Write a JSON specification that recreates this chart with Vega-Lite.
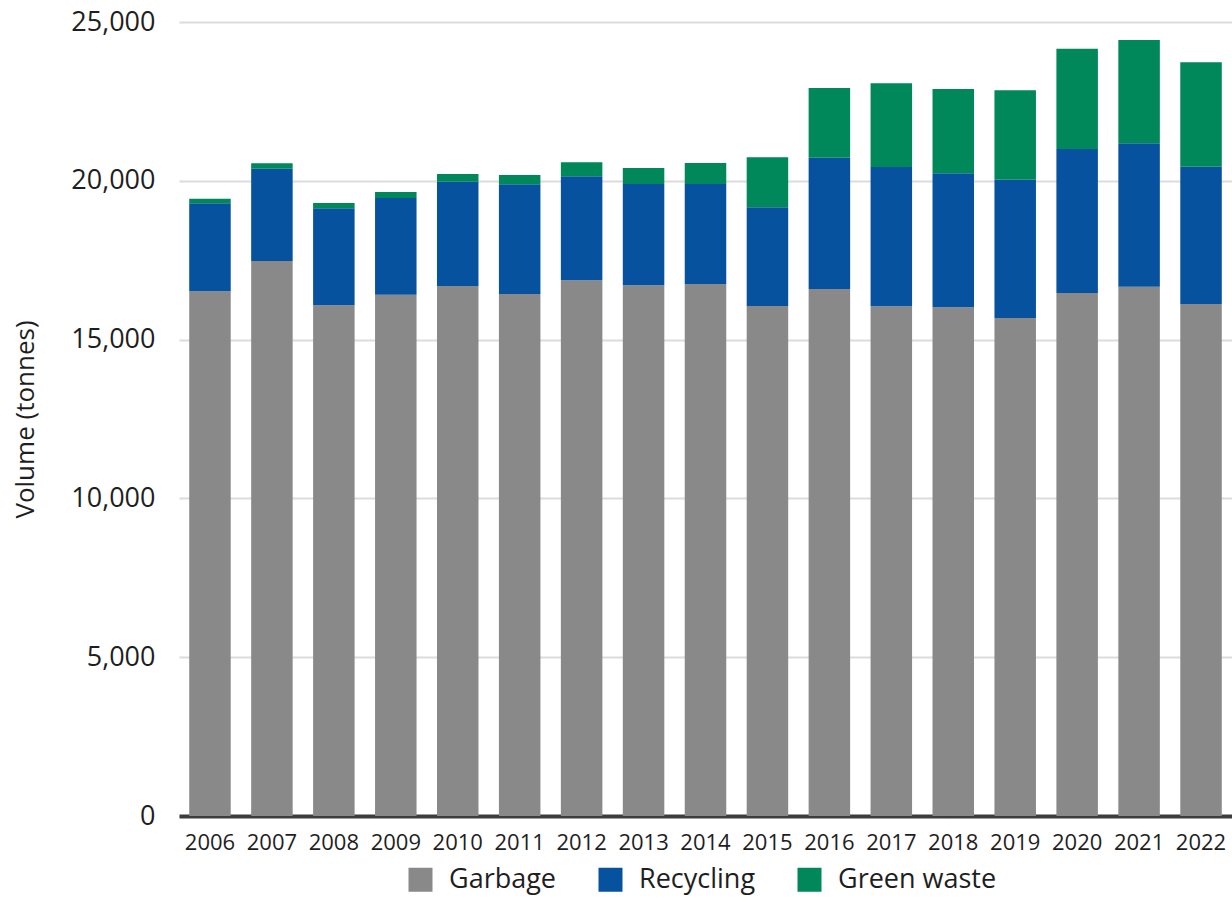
{
  "$schema": "https://vega.github.io/schema/vega-lite/v6.json",
  "autosize": "none",
  "width": 1053,
  "height": 794,
  "padding": {"left": 179, "top": 22, "right": 0, "bottom": 105},
  "background": "#ffffff",
  "data": {
    "values": [
      {"year": "2006", "type": "Garbage", "tonnes": 16520}, {"year": "2006", "type": "Recycling", "tonnes": 2770}, {"year": "2006", "type": "Green waste", "tonnes": 145},
      {"year": "2007", "type": "Garbage", "tonnes": 17475}, {"year": "2007", "type": "Recycling", "tonnes": 2906}, {"year": "2007", "type": "Green waste", "tonnes": 170},
      {"year": "2008", "type": "Garbage", "tonnes": 16080}, {"year": "2008", "type": "Recycling", "tonnes": 3054}, {"year": "2008", "type": "Green waste", "tonnes": 167},
      {"year": "2009", "type": "Garbage", "tonnes": 16414}, {"year": "2009", "type": "Recycling", "tonnes": 3044}, {"year": "2009", "type": "Green waste", "tonnes": 189},
      {"year": "2010", "type": "Garbage", "tonnes": 16688}, {"year": "2010", "type": "Recycling", "tonnes": 3284}, {"year": "2010", "type": "Green waste", "tonnes": 242},
      {"year": "2011", "type": "Garbage", "tonnes": 16436}, {"year": "2011", "type": "Recycling", "tonnes": 3454}, {"year": "2011", "type": "Green waste", "tonnes": 293},
      {"year": "2012", "type": "Garbage", "tonnes": 16867}, {"year": "2012", "type": "Recycling", "tonnes": 3275}, {"year": "2012", "type": "Green waste", "tonnes": 440},
      {"year": "2013", "type": "Garbage", "tonnes": 16710}, {"year": "2013", "type": "Recycling", "tonnes": 3189}, {"year": "2013", "type": "Green waste", "tonnes": 504},
      {"year": "2014", "type": "Garbage", "tonnes": 16751}, {"year": "2014", "type": "Recycling", "tonnes": 3148}, {"year": "2014", "type": "Green waste", "tonnes": 662},
      {"year": "2015", "type": "Garbage", "tonnes": 16058}, {"year": "2015", "type": "Recycling", "tonnes": 3107}, {"year": "2015", "type": "Green waste", "tonnes": 1574},
      {"year": "2016", "type": "Garbage", "tonnes": 16593}, {"year": "2016", "type": "Recycling", "tonnes": 4135}, {"year": "2016", "type": "Green waste", "tonnes": 2194},
      {"year": "2017", "type": "Garbage", "tonnes": 16048}, {"year": "2017", "type": "Recycling", "tonnes": 4387}, {"year": "2017", "type": "Green waste", "tonnes": 2634},
      {"year": "2018", "type": "Garbage", "tonnes": 16016}, {"year": "2018", "type": "Recycling", "tonnes": 4220}, {"year": "2018", "type": "Green waste", "tonnes": 2655},
      {"year": "2019", "type": "Garbage", "tonnes": 15680}, {"year": "2019", "type": "Recycling", "tonnes": 4355}, {"year": "2019", "type": "Green waste", "tonnes": 2814},
      {"year": "2020", "type": "Garbage", "tonnes": 16467}, {"year": "2020", "type": "Recycling", "tonnes": 4534}, {"year": "2020", "type": "Green waste", "tonnes": 3159},
      {"year": "2021", "type": "Garbage", "tonnes": 16666}, {"year": "2021", "type": "Recycling", "tonnes": 4515}, {"year": "2021", "type": "Green waste", "tonnes": 3252},
      {"year": "2022", "type": "Garbage", "tonnes": 16121}, {"year": "2022", "type": "Recycling", "tonnes": 4323}, {"year": "2022", "type": "Green waste", "tonnes": 3287}
    ]
  },
  "transform": [
    {"calculate": "indexof(['Garbage', 'Recycling', 'Green waste'], datum.type)", "as": "stackOrder"}
  ],
  "mark": {"type": "bar"},
  "encoding": {
    "x": {
      "field": "year",
      "type": "ordinal",
      "scale": {"paddingInner": 0.33, "paddingOuter": 0.165},
      "axis": {
        "title": null,
        "labelAngle": 0,
        "labelFont": "Open Sans",
        "labelFontSize": 22,
        "labelColor": "#1e1e1e",
        "labelPadding": 16,
        "ticks": false,
        "domainColor": "#3c3c3c",
        "domainWidth": 4,
        "grid": false
      }
    },
    "y": {
      "field": "tonnes",
      "type": "quantitative",
      "stack": "zero",
      "scale": {"domain": [0, 25000], "nice": false},
      "axis": {
        "title": "Volume (tonnes)",
        "titleFont": "Open Sans",
        "titleFontSize": 26,
        "titleFontWeight": "normal",
        "titleColor": "#1e1e1e",
        "titlePadding": 32,
        "values": [0, 5000, 10000, 15000, 20000, 25000],
        "format": ",d",
        "labelFont": "Open Sans",
        "labelFontSize": 27,
        "labelColor": "#1e1e1e",
        "labelPadding": 24,
        "ticks": false,
        "domain": false,
        "grid": true,
        "gridColor": "#dcdcdc",
        "gridWidth": 2
      }
    },
    "order": {"field": "stackOrder", "type": "quantitative", "sort": "ascending"},
    "color": {
      "field": "type",
      "type": "nominal",
      "sort": ["Garbage", "Recycling", "Green waste"],
      "scale": {
        "domain": ["Garbage", "Recycling", "Green waste"],
        "range": ["#898989", "#06529f", "#00875a"]
      },
      "legend": {
        "title": null,
        "orient": "none",
        "legendX": 228,
        "legendY": 844,
        "direction": "horizontal",
        "symbolType": "square",
        "symbolSize": 576,
        "symbolStrokeWidth": 0,
        "symbolOpacity": 1,
        "labelFont": "Open Sans",
        "labelFontSize": 27,
        "labelColor": "#1e1e1e",
        "labelOffset": 15,
        "columnPadding": 40
      }
    }
  },
  "config": {
    "view": {"stroke": null}
  }
}
